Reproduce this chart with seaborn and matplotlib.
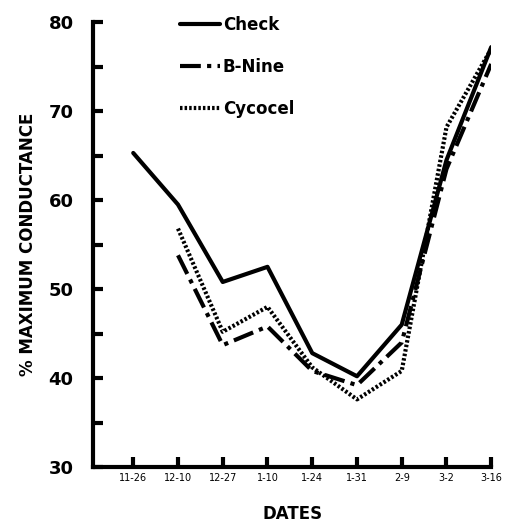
import matplotlib
matplotlib.use("Agg")
import matplotlib.pyplot as plt
import seaborn as sns
import pandas as pd
from matplotlib.ticker import MultipleLocator
from matplotlib.lines import Line2D

dates = ["11-26", "12-10", "12-27", "1-10", "1-24", "1-31", "2-9", "3-2", "3-16"]
check = [65.3, 59.5, 50.8, 52.5, 42.8, 40.2, 46.0, 64.5, 77.2]
bnine = [None, 53.8, 43.7, 45.8, 40.8, 39.2, 44.0, 63.5, 75.3]
cycocel = [None, 56.8, 45.2, 48.0, 41.2, 37.6, 40.8, 68.2, 77.0]

rows = []
for name, vals in [("Check", check), ("B-Nine", bnine), ("Cycocel", cycocel)]:
    for i, (d, v) in enumerate(zip(dates, vals)):
        if v is not None:
            rows.append({"pos": i, "date": d, "value": v, "treatment": name})
df = pd.DataFrame(rows)

sns.set_style("ticks")
plt.rcParams["font.family"] = ["DejaVu Sans"]
plt.rcParams["text.color"] = "black"
plt.rcParams["axes.labelcolor"] = "black"
plt.rcParams["xtick.color"] = "black"
plt.rcParams["ytick.color"] = "black"
plt.rcParams["axes.edgecolor"] = "black"

fig = plt.figure(figsize=(5.08, 5.28), dpi=100)
ax = fig.add_axes([0.183, 0.1155, 0.784, 0.8425])

dashes = {"Check": "", "B-Nine": (5, 1.5, 1, 1.5), "Cycocel": (0.6, 0.5)}
sns.lineplot(data=df, x="pos", y="value", hue="treatment", style="treatment",
             palette={"Check": "black", "B-Nine": "black", "Cycocel": "black"},
             dashes=dashes, linewidth=3, ax=ax, legend=False,
             hue_order=["Check", "B-Nine", "Cycocel"],
             style_order=["Check", "B-Nine", "Cycocel"])

ax.set_xlim(-0.9, 8.0)
ax.set_ylim(30, 80)
ax.set_xticks(range(len(dates)))
ax.set_xticklabels(dates, fontsize=7)
ax.yaxis.set_major_locator(MultipleLocator(10))
ax.yaxis.set_minor_locator(MultipleLocator(5))
ax.tick_params(axis="y", which="both", direction="in", length=7, width=3,
               labelsize=13, pad=14)
ax.tick_params(axis="x", which="both", direction="in", length=7, width=3, pad=4)
for lab in ax.get_yticklabels():
    lab.set_fontweight("bold")
sns.despine(ax=ax)
for s in ["left", "bottom"]:
    ax.spines[s].set_linewidth(3)

ax.set_ylabel("% MAXIMUM CONDUCTANCE", fontsize=12, fontweight="bold", labelpad=8)
ax.set_xlabel("DATES", fontsize=12, fontweight="bold", labelpad=16)

handles = [
    Line2D([], [], color="black", lw=3, linestyle="-"),
    Line2D([], [], color="black", lw=3, dashes=dashes["B-Nine"]),
    Line2D([], [], color="black", lw=3, dashes=dashes["Cycocel"]),
]
leg = ax.legend(handles, ["Check", "B-Nine", "Cycocel"], loc="upper left",
                bbox_to_anchor=(0.18, 1.048), frameon=False, handlelength=2.4,
                handletextpad=0.2, labelspacing=1.45,
                prop={"weight": "bold", "size": 12})

fig.savefig("out.png", dpi=100)
